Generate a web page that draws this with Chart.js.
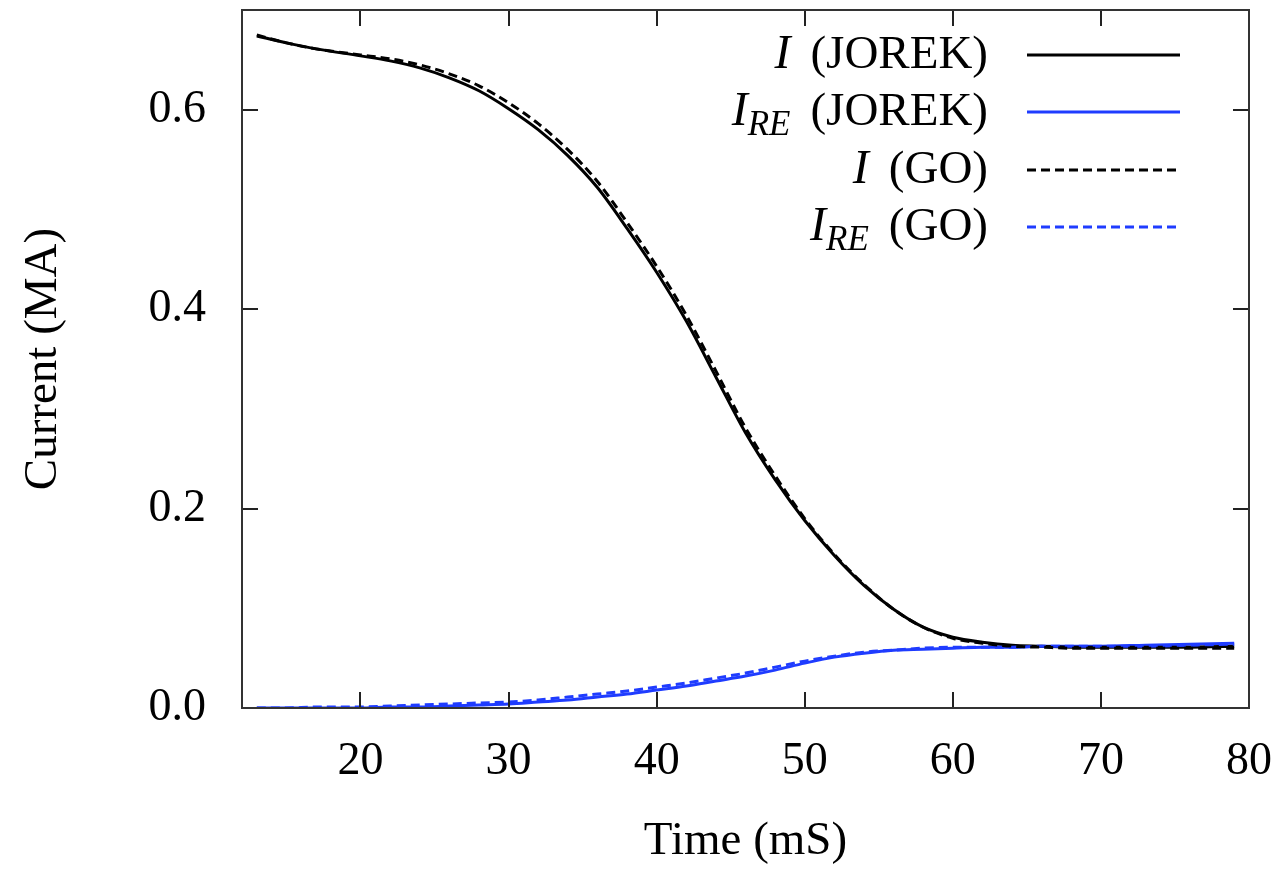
<!DOCTYPE html>
<html>
<head>
<meta charset="utf-8">
<script src="https://cdn.jsdelivr.net/npm/chart.js@4/dist/chart.umd.min.js"></script>
<style>
  body { margin: 0; background: #fff; }
  #wrap { width: 1274px; height: 871px; }
</style>
</head>
<body>
<div id="wrap"><canvas id="currentChart" width="1274" height="871"></canvas></div>
<script>
// time grid (mS) shared by all four curves
const times = [13, 15, 17, 20, 22, 24, 26, 28, 30, 32, 34, 36, 38, 40, 42, 44, 46, 48, 50,
  52, 54, 56, 58, 60, 62, 64, 66, 68, 70, 73, 76, 79];

// total current, JOREK
const iJorek = [0.674, 0.667, 0.661, 0.654, 0.649, 0.642, 0.632, 0.619, 0.601, 0.580, 0.554, 0.522,
  0.481, 0.437, 0.388, 0.332, 0.276, 0.229, 0.188, 0.153, 0.123, 0.099, 0.081, 0.071, 0.066,
  0.063, 0.062, 0.061, 0.061, 0.061, 0.061, 0.062];
// runaway current, JOREK
const ireJorek = [0.000, 0.000, 0.000, 0.000, 0.001, 0.001, 0.002, 0.003, 0.004, 0.006, 0.008, 0.011,
  0.014, 0.018, 0.022, 0.027, 0.032, 0.038, 0.045, 0.051, 0.055, 0.058, 0.059, 0.060, 0.061,
  0.061, 0.062, 0.062, 0.062, 0.063, 0.064, 0.065];
// total current, GO
const iGo = [0.675, 0.667, 0.661, 0.655, 0.651, 0.645, 0.636, 0.624, 0.607, 0.586, 0.560, 0.528,
  0.487, 0.443, 0.394, 0.338, 0.281, 0.233, 0.190, 0.154, 0.124, 0.099, 0.081, 0.070, 0.065,
  0.062, 0.061, 0.060, 0.060, 0.060, 0.060, 0.060];
// runaway current, GO
const ireGo = [0.000, 0.000, 0.001, 0.001, 0.002, 0.003, 0.004, 0.005, 0.006, 0.008, 0.011, 0.014,
  0.017, 0.021, 0.025, 0.030, 0.035, 0.041, 0.047, 0.052, 0.056, 0.058, 0.060, 0.061, 0.061,
  0.061, 0.062, 0.062, 0.062, 0.062, 0.063, 0.064];

const seriesNames = ['I (JOREK)', 'I_RE (JOREK)', 'I (GO)', 'I_RE (GO)'];
const xTicks = [20, 30, 40, 50, 60, 70, 80];
const yTicks = [0.0, 0.2, 0.4, 0.6];

const BLUE = '#1f3cff';
const FONT = '"Liberation Serif", "DejaVu Serif", serif';

function pts(ys) {
  return times.map((t, i) => ({ x: t, y: ys[i] }));
}

function makeSet(label, ys, color, dashed) {
  return {
    label,
    data: pts(ys),
    borderColor: color,
    borderWidth: 3,
    borderDash: dashed ? [9, 5] : [],
    pointRadius: 0,
    cubicInterpolationMode: 'monotone',
    fill: false,
    order: dashed ? 1 : 2
  };
}

// no extra room for overhanging labels, the frame sits where the reference has it
function noPad(s) {
  s.paddingTop = 0; s.paddingBottom = 0; s.paddingLeft = 0; s.paddingRight = 0;
}

// gnuplot-like frame with inward ticks on all sides
const framePlugin = {
  id: 'frame',
  afterDraw(chart) {
    const { ctx, chartArea: a, scales } = chart;
    const len = 16;
    ctx.save();
    ctx.strokeStyle = '#222';
    ctx.lineWidth = 2;
    ctx.beginPath();
    scales.x.ticks.forEach(t => {
      const px = Math.round(scales.x.getPixelForValue(t.value));
      ctx.moveTo(px, a.bottom); ctx.lineTo(px, a.bottom - len);
      ctx.moveTo(px, a.top); ctx.lineTo(px, a.top + len);
    });
    scales.y.ticks.forEach(t => {
      const py = Math.round(scales.y.getPixelForValue(t.value));
      ctx.moveTo(a.left, py); ctx.lineTo(a.left + len, py);
      ctx.moveTo(a.right, py); ctx.lineTo(a.right - len, py);
    });
    ctx.stroke();
    ctx.strokeStyle = '#333';
    ctx.strokeRect(a.left, a.top, a.right - a.left, a.bottom - a.top);
    ctx.restore();
  }
};

// legend with italic symbol and subscript, text right aligned before the sample line
const legendPlugin = {
  id: 'texLegend',
  afterDraw(chart) {
    const { ctx } = chart;
    const textRight = 988, lineL = 1027, lineR = 1180;
    const rows = [55, 112, 170, 227];
    ctx.save();
    chart.data.datasets.forEach((ds, i) => {
      const m = ds.label.match(/^(\w)(?:_(\w+))? (.*)$/);
      const sym = m[1], sub = m[2], rest = m[3];
      const base = rows[i] + 13;
      const fMain = 'italic 48px ' + FONT, fSub = 'italic 35px ' + FONT, fText = '47px ' + FONT;
      ctx.font = fMain; const wSym = ctx.measureText(sym).width + 4;
      ctx.font = fSub; const wSub = sub ? ctx.measureText(sub).width : 0;
      ctx.font = fText; const wRest = ctx.measureText(rest).width;
      const gap = 16;
      let x = textRight - (wSym + wSub + gap + wRest);
      ctx.fillStyle = '#000';
      ctx.textBaseline = 'alphabetic';
      ctx.textAlign = 'left';
      ctx.font = fMain; ctx.fillText(sym, x, base); x += wSym;
      if (sub) { ctx.font = fSub; ctx.fillText(sub, x - 4, base + 10); x += wSub; }
      x += gap;
      ctx.font = fText; ctx.fillText(rest, x, base);

      ctx.strokeStyle = ds.borderColor;
      ctx.lineWidth = 3;
      ctx.setLineDash(ds.borderDash);
      ctx.beginPath();
      ctx.moveTo(lineL, rows[i]);
      ctx.lineTo(lineR, rows[i]);
      ctx.stroke();
      ctx.setLineDash([]);
    });
    ctx.restore();
  }
};

new Chart(document.getElementById('currentChart'), {
  type: 'line',
  data: {
    datasets: [
      makeSet(seriesNames[0], iJorek, '#000', false),
      makeSet(seriesNames[1], ireJorek, BLUE, false),
      makeSet(seriesNames[2], iGo, '#000', true),
      makeSet(seriesNames[3], ireGo, BLUE, true)
    ]
  },
  options: {
    responsive: false,
    animation: false,
    layout: { padding: { left: 0, top: 10, right: 25, bottom: 0 } },
    plugins: { legend: { display: false }, tooltip: { enabled: false } },
    scales: {
      x: {
        type: 'linear',
        min: 12,
        max: 80,
        afterBuildTicks: s => { s.ticks = xTicks.map(v => ({ value: v })); },
        afterFit: s => { s.height = 163; noPad(s); },
        grid: { display: false, drawTicks: false },
        border: { display: false },
        ticks: { padding: 26, color: '#000', font: { family: FONT, size: 46 } },
        title: {
          display: true, text: 'Time (mS)', color: '#000',
          font: { family: FONT, size: 47 }, padding: { top: 0, bottom: 1 }
        }
      },
      y: {
        min: 0,
        max: 0.7,
        afterBuildTicks: s => { s.ticks = yTicks.map(v => ({ value: v })); },
        afterFit: s => { s.width = 242; noPad(s); },
        grid: { display: false, drawTicks: false },
        border: { display: false },
        ticks: {
          padding: 36, color: '#000', font: { family: FONT, size: 46 },
          callback: v => Number(v).toFixed(1)
        },
        title: {
          display: true, text: 'Current (MA)', color: '#000',
          font: { family: FONT, size: 47 }, padding: { top: 15, bottom: 0 }
        }
      }
    }
  },
  plugins: [framePlugin, legendPlugin]
});
</script>
</body>
</html>
